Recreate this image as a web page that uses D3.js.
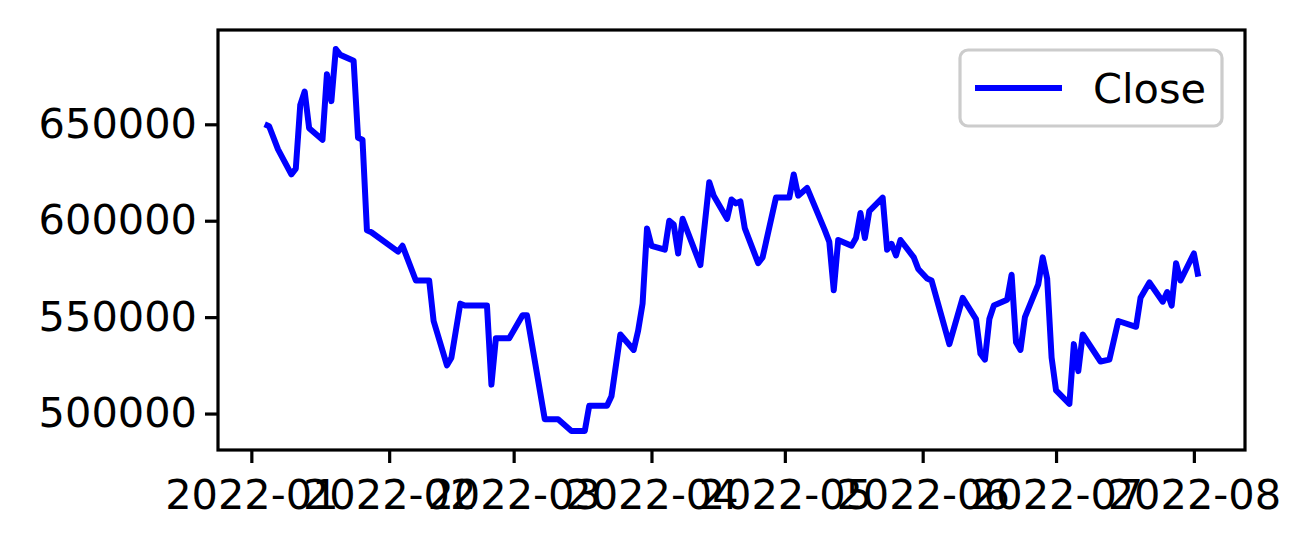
<!DOCTYPE html>
<html>
<head>
<meta charset="utf-8">
<script src="https://cdn.jsdelivr.net/npm/d3@7"></script>
<style>
  html, body { margin: 0; padding: 0; background: #fff; }
  svg { display: block; }
  text { font-family: "DejaVu Sans", sans-serif; }
</style>
</head>
<body>
<svg id="chart" width="1309" height="551"></svg>
<script>
// ---- data ----
const dates = [
  "2022-01-04","2022-01-05","2022-01-07","2022-01-10","2022-01-11","2022-01-12","2022-01-13","2022-01-14",
  "2022-01-17","2022-01-18","2022-01-19","2022-01-20","2022-01-21","2022-01-24","2022-01-25","2022-01-26",
  "2022-01-27","2022-01-28","2022-02-03","2022-02-04","2022-02-07","2022-02-10","2022-02-11","2022-02-14",
  "2022-02-15","2022-02-17","2022-02-18","2022-02-23","2022-02-24","2022-02-25","2022-02-28","2022-03-03",
  "2022-03-04","2022-03-08","2022-03-11","2022-03-14","2022-03-17","2022-03-18","2022-03-22","2022-03-23",
  "2022-03-25","2022-03-28","2022-03-29","2022-03-30","2022-03-31","2022-04-01","2022-04-04","2022-04-05",
  "2022-04-06","2022-04-07","2022-04-08","2022-04-12","2022-04-14","2022-04-15","2022-04-18","2022-04-19",
  "2022-04-20","2022-04-21","2022-04-22","2022-04-25","2022-04-26","2022-04-29","2022-05-02","2022-05-03",
  "2022-05-04","2022-05-06","2022-05-10","2022-05-11","2022-05-12","2022-05-13","2022-05-16","2022-05-17",
  "2022-05-18","2022-05-19","2022-05-20","2022-05-23","2022-05-24","2022-05-25","2022-05-26","2022-05-27",
  "2022-05-30","2022-05-31","2022-06-02","2022-06-03","2022-06-07","2022-06-10","2022-06-13","2022-06-14",
  "2022-06-15","2022-06-16","2022-06-17","2022-06-20","2022-06-21","2022-06-22","2022-06-23","2022-06-24",
  "2022-06-27","2022-06-28","2022-06-29","2022-06-30","2022-07-01","2022-07-04","2022-07-05","2022-07-06",
  "2022-07-07","2022-07-11","2022-07-13","2022-07-15","2022-07-19","2022-07-20","2022-07-22","2022-07-25",
  "2022-07-26","2022-07-27","2022-07-28","2022-07-29","2022-08-01","2022-08-02"
];
const closes = [
  650000,649000,637000,624000,627000,660000,667000,648000,
  642000,676000,662000,689000,686000,683000,643000,642000,
  595000,594000,584000,587000,569000,569000,548000,525000,
  529000,557000,556000,556000,515000,539000,539000,551000,
  551000,497000,497000,491000,491000,504000,504000,509000,
  541000,533000,543000,557000,596000,587000,585000,600000,
  598000,583000,601000,577000,620000,613000,601000,611000,
  609000,610000,596000,578000,581000,612000,612000,624000,
  613000,617000,595000,589000,564000,590000,587000,591000,
  604000,591000,605000,612000,585000,588000,582000,590000,
  581000,575000,570000,569000,536000,560000,549000,531000,
  528000,549000,556000,559000,572000,537000,533000,550000,
  567000,581000,570000,529000,512000,505000,536000,522000,
  541000,527000,528000,548000,545000,560000,568000,558000,
  563000,556000,578000,569000,583000,571000
];
const yTickValues = [500000, 550000, 600000, 650000];
const xTickDates = ["2022-01-01","2022-02-01","2022-03-01","2022-04-01","2022-05-01","2022-06-01","2022-07-01","2022-08-01"];
const xTickLabels = ["2022-01","2022-02","2022-03","2022-04","2022-05","2022-06","2022-07","2022-08"];
const seriesName = "Close";

// ---- layout ----
const W = 1309, H = 551;
const margin = {left: 218, right: 64, top: 30, bottom: 101};
const iw = W - margin.left - margin.right;
const ih = H - margin.top - margin.bottom;
const fontPx = 41.5;
const tickLen = 13;

const parse = d3.utcParse("%Y-%m-%d");
const data = dates.map((d, i) => ({date: parse(d), value: closes[i]}));

const xExt = d3.extent(data, d => d.date);
const xSpan = xExt[1] - xExt[0];
const x = d3.scaleUtc()
  .domain([new Date(+xExt[0] - 0.05 * xSpan), new Date(+xExt[1] + 0.05 * xSpan)])
  .range([0, iw]);

const yExt = d3.extent(data, d => d.value);
const ySpan = yExt[1] - yExt[0];
const y = d3.scaleLinear()
  .domain([yExt[0] - 0.05 * ySpan, yExt[1] + 0.05 * ySpan])
  .range([ih, 0]);

const svg = d3.select("#chart");
svg.append("rect").attr("width", W).attr("height", H).attr("fill", "#fff");
const g = svg.append("g").attr("transform", `translate(${margin.left},${margin.top})`);

// line
const line = d3.line().x(d => x(d.date)).y(d => y(d.value));
g.append("path").datum(data)
  .attr("fill", "none").attr("stroke", "#0000ff")
  .attr("stroke-width", 6).attr("stroke-linejoin", "round").attr("stroke-linecap", "butt")
  .attr("d", line);

// axes
const xAxis = d3.axisBottom(x)
  .tickValues(xTickDates.map(parse))
  .tickFormat((d, i) => xTickLabels[i])
  .tickSizeInner(tickLen).tickSizeOuter(0).tickPadding(17);
const yAxis = d3.axisLeft(y)
  .tickValues(yTickValues)
  .tickFormat(d3.format("d"))
  .tickSizeInner(tickLen).tickSizeOuter(0).tickPadding(8);

const gx = g.append("g").attr("transform", `translate(0,${ih})`).call(xAxis);
const gy = g.append("g").call(yAxis);
[gx, gy].forEach(a => {
  a.select(".domain").remove();
  a.selectAll(".tick line").attr("stroke", "#000").attr("stroke-width", 3.2);
  a.selectAll(".tick text").attr("fill", "#000")
    .style("font-family", "'DejaVu Sans', sans-serif").style("font-size", fontPx + "px");
});

// frame
g.append("rect").attr("x", 0).attr("y", 0).attr("width", iw).attr("height", ih)
  .attr("fill", "none").attr("stroke", "#000").attr("stroke-width", 3.2);

// legend
const lg = g.append("g").attr("transform", `translate(${960 - margin.left},${50 - margin.top})`);
lg.append("rect").attr("x", 0).attr("y", 0).attr("width", 262).attr("height", 76)
  .attr("rx", 8).attr("ry", 8)
  .attr("fill", "#fff").attr("fill-opacity", 0.8)
  .attr("stroke", "#cccccc").attr("stroke-width", 3.2);
lg.append("line").attr("x1", 15).attr("x2", 102).attr("y1", 38).attr("y2", 38)
  .attr("stroke", "#0000ff").attr("stroke-width", 6);
lg.append("text").attr("x", 133).attr("y", 38).attr("dy", "0.35em")
  .style("font-size", fontPx + "px").attr("fill", "#000").text(seriesName);
</script>
</body>
</html>
